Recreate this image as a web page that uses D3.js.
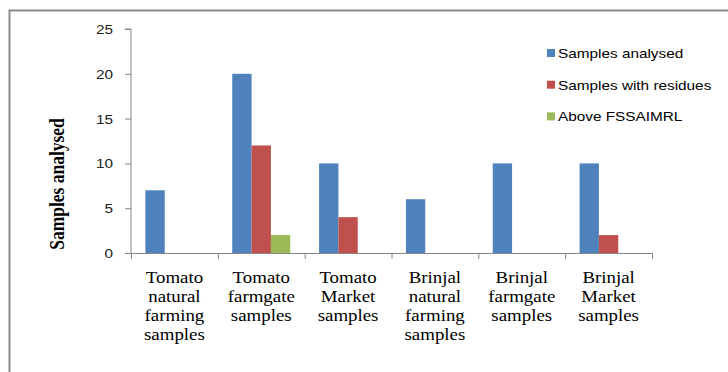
<!DOCTYPE html>
<html>
<head>
<meta charset="utf-8">
<script src="https://cdn.jsdelivr.net/npm/d3@7"></script>
<style>
  body { margin: 0; background: #fff; }
  svg { display: block; }
</style>
</head>
<body>
<div id="graphicContainer"></div>
<script>
// chart values
var categories = [
  ["Tomato", "natural", "farming", "samples"],
  ["Tomato", "farmgate", "samples"],
  ["Tomato", "Market", "samples"],
  ["Brinjal", "natural", "farming", "samples"],
  ["Brinjal", "farmgate", "samples"],
  ["Brinjal", "Market", "samples"]
];
var seriesNames = ["Samples analysed", "Samples with residues", "Above FSSAIMRL"];
var analysed = [7, 20, 10, 6, 10, 10];
var withResidues = [0, 12, 4, 0, 0, 2];
var aboveMRL = [0, 2, 0, 0, 0, 0];
var yTicks = [0, 5, 10, 15, 20, 25];

var colors = ["#4F81BD", "#C0504D", "#9BBB59"];
var series = [analysed, withResidues, aboveMRL];

var width = 728,
    height = 372,
    plot = {left: 131, right: 652, top: 29, bottom: 253},
    stretch = 1.18; // the original picture is a bit wide

var svg = d3.select("#graphicContainer")
  .append("svg")
  .attr("width", width)
  .attr("height", height);

// outer frame (runs off the right and bottom edges)
svg.append("rect")
  .attr("x", 9.5).attr("y", 10.5)
  .attr("width", 800).attr("height", 500)
  .attr("fill", "none")
  .attr("stroke", "#8a8a8a")
  .attr("stroke-width", 2);

var idx = categories.map(function(d, i){ return i });

var x = d3.scaleBand()
  .domain(idx)
  .range([plot.left, plot.right])
  .paddingInner(0).paddingOuter(0);

var groupPad = 0.166;
var x1 = d3.scaleBand()
  .domain([0, 1, 2])
  .range([x.bandwidth() * groupPad, x.bandwidth() * (1 - groupPad)]);

var y = d3.scaleLinear()
  .domain([0, 25])
  .range([plot.bottom, plot.top]);

// bars
var groups = svg.selectAll(".catGroup")
  .data(idx)
  .enter().append("g")
  .attr("class", "catGroup")
  .attr("transform", function(d){ return "translate(" + x(d) + ",0)" });

groups.selectAll("rect")
  .data(function(i){ return series.map(function(s, k){ return {k: k, v: s[i]} }) })
  .enter().append("rect")
  .filter(function(d){ return d.v > 0 })
  .attr("x", function(d){ return x1(d.k) })
  .attr("width", x1.bandwidth())
  .attr("y", function(d){ return y(d.v) })
  .attr("height", function(d){ return y(0) - y(d.v) })
  .attr("fill", function(d){ return colors[d.k] });

// y axis
var yAxis = svg.append("g")
  .attr("transform", "translate(" + plot.left + ",0)")
  .call(d3.axisLeft(y).tickValues(yTicks).tickSize(6).tickPadding(0).tickFormat(function(){ return "" }));
yAxis.selectAll("line, path").attr("stroke", "#868686");
yAxis.select(".domain").attr("d", "M-6," + plot.top + "H0V" + plot.bottom);

svg.selectAll(".yLab")
  .data(yTicks)
  .enter().append("text")
  .attr("class", "yLab")
  .attr("transform", function(d){ return "translate(113," + (y(d) + 5) + ") scale(" + stretch + ",1)" })
  .attr("text-anchor", "end")
  .attr("font-family", "Liberation Sans, Arial, sans-serif")
  .attr("font-size", "13px")
  .attr("fill", "#222")
  .text(function(d){ return d });

// x axis
var xAxisG = svg.append("g");
xAxisG.append("line")
  .attr("x1", plot.left - 6).attr("x2", plot.right)
  .attr("y1", plot.bottom + 0.5).attr("y2", plot.bottom + 0.5)
  .attr("stroke", "#868686");
xAxisG.selectAll(".xTick")
  .data(idx.concat([idx.length]))
  .enter().append("line")
  .attr("x1", function(d){ return (d < idx.length ? x(d) : plot.right) + 0.5 })
  .attr("x2", function(d){ return (d < idx.length ? x(d) : plot.right) + 0.5 })
  .attr("y1", plot.bottom).attr("y2", plot.bottom + 6)
  .attr("stroke", "#868686");

// category labels
var catText = svg.selectAll(".catText")
  .data(idx)
  .enter().append("text")
  .attr("class", "catText")
  .attr("transform", function(d){ return "translate(" + (x(d) + x.bandwidth() / 2) + ",283) scale(" + stretch + ",1)" })
  .attr("text-anchor", "middle")
  .attr("font-family", "Liberation Serif, Times New Roman, serif")
  .attr("font-size", "16px")
  .attr("fill", "#000");
catText.selectAll("tspan")
  .data(function(d){ return categories[d] })
  .enter().append("tspan")
  .attr("x", 0)
  .attr("y", function(d, i){ return i * 19 })
  .text(function(d){ return d });

// y title
svg.append("text")
  .attr("transform", "translate(64,184) scale(" + stretch + ",1) rotate(-90)")
  .attr("text-anchor", "middle")
  .attr("font-family", "Liberation Serif, Times New Roman, serif")
  .attr("font-weight", "bold")
  .attr("font-size", "17.5px")
  .attr("fill", "#000")
  .text("Samples analysed");

// legend
var legend = svg.selectAll(".legendItem")
  .data(seriesNames)
  .enter().append("g")
  .attr("class", "legendItem")
  .attr("transform", function(d, i){ return "translate(547," + (53 + i * 31.7) + ")" });
legend.append("rect")
  .attr("x", 0).attr("y", -4)
  .attr("width", 8).attr("height", 8)
  .attr("fill", function(d, i){ return colors[i] });
legend.append("text")
  .attr("transform", "translate(11,5) scale(" + stretch + ",1)")
  .attr("font-family", "Liberation Sans, Arial, sans-serif")
  .attr("font-size", "13px")
  .attr("fill", "#000")
  .text(function(d){ return d });
</script>
</body>
</html>
